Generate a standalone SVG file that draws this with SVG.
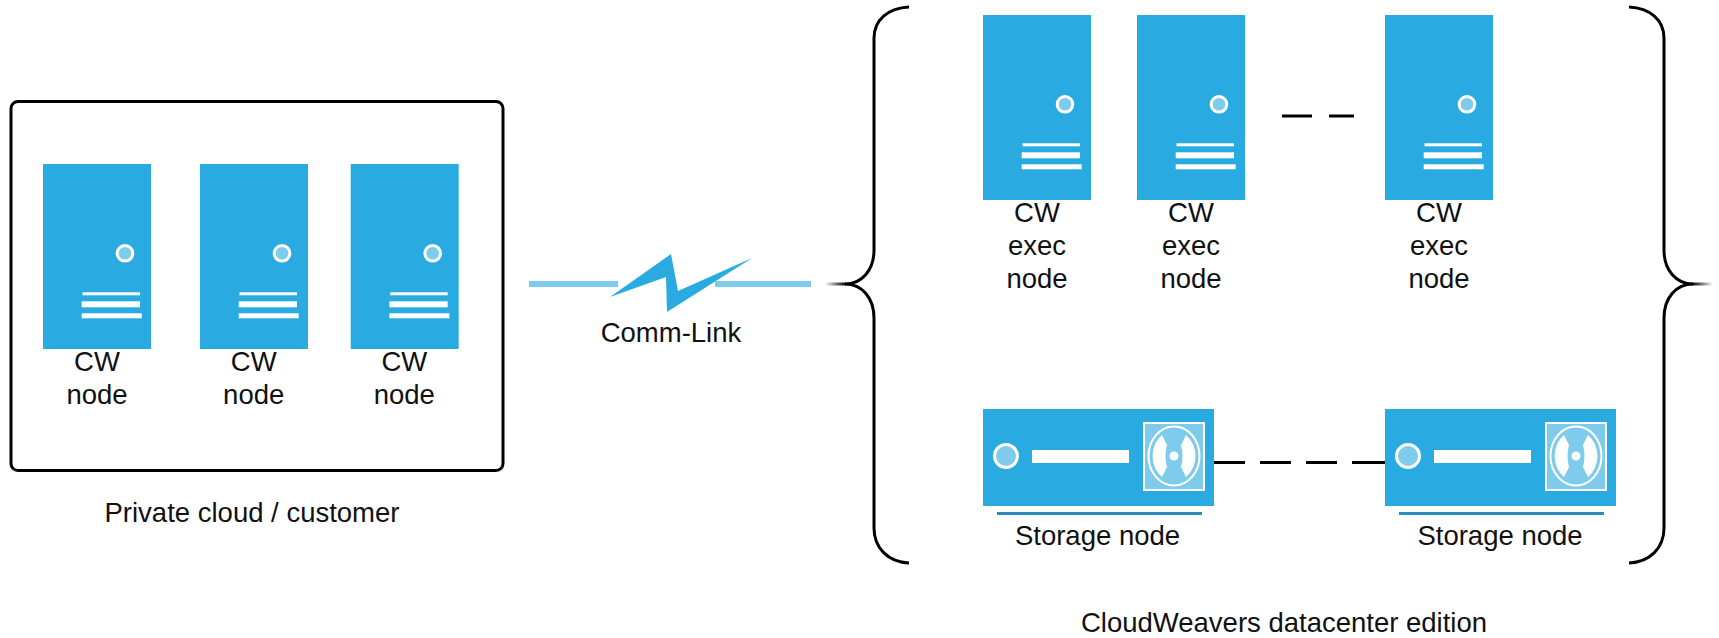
<svg xmlns="http://www.w3.org/2000/svg" xmlns:xlink="http://www.w3.org/1999/xlink" width="1719" height="638" viewBox="0 0 1719 638">
<style>
text{font-family:"Liberation Sans",Arial,sans-serif;font-size:27.5px;fill:#111;text-anchor:middle}
.blue{fill:#29abe2}
.light{fill:#7fcbec}
.w{fill:#fff}
.ws{fill:#7fcbec;stroke:#fff}
.k{fill:none;stroke:#000;stroke-width:3}
</style>
<defs>
<linearGradient id="fadeL"><stop offset="0" stop-color="#000" stop-opacity="0"/><stop offset="1" stop-color="#000"/></linearGradient>
<linearGradient id="fadeR"><stop offset="0" stop-color="#000"/><stop offset="1" stop-color="#000" stop-opacity="0"/></linearGradient>
<g id="server">
<rect class="blue" width="108" height="185"/>
<circle class="ws" stroke-width="3" cx="82" cy="89.300" r="7.800"/>
<rect class="w" x="39.500" y="128.300" width="57.500" height="3"/>
<rect class="w" x="38.700" y="137.300" width="58.300" height="6"/>
<rect class="w" x="38.700" y="149.300" width="60" height="5"/>
</g>
<g id="storage">
<rect class="blue" width="231" height="97"/>
<circle class="ws" stroke-width="3" cx="23" cy="47" r="11.500"/>
<rect class="w" x="49" y="41" width="97" height="13"/>
<rect class="ws" stroke-width="2" x="161" y="14" width="60" height="67"/>
<ellipse cx="191" cy="47" rx="25.500" ry="29.500" fill="none" stroke="#fff" stroke-width="2"/>
<path class="w" d="M179 26A23 26 0 0 0 179 68L184 58Q181 47 184 36Z"/>
<path class="w" d="M203 26A23 26 0 0 1 203 68L198 58Q201 47 198 36Z"/>
<circle class="w" cx="191" cy="47" r="4.500"/>
</g>
</defs>
<g id="connectors">
<rect class="light" x="529" y="281" width="89" height="6"/>
<rect class="light" x="715" y="281" width="96" height="6"/>
<path class="k" d="M1214 462.500H1245M1260 462.500H1291M1306 462.500H1337M1352 462.500H1385"/>
<path class="k" d="M1282 116H1312M1329 116H1354"/>
</g>
<g id="private-cloud">
<rect class="k" x="11" y="101.500" width="492" height="369" rx="7"/>
<text x="252" y="522">Private cloud / customer</text>
</g>
<g id="cw-node-1"><use xlink:href="#server" href="#server" x="43" y="164"/><text x="97" y="371">CW</text><text x="97" y="404">node</text></g>
<g id="cw-node-2"><use xlink:href="#server" href="#server" x="200" y="164"/><text x="253.700" y="371">CW</text><text x="253.700" y="404">node</text></g>
<g id="cw-node-3"><use xlink:href="#server" href="#server" x="350.700" y="164"/><text x="404.300" y="371">CW</text><text x="404.300" y="404">node</text></g>
<g id="comm-link">
<path class="blue" d="M610 297L671 254L678 291L752 258L667 312L666 277Z"/>
<text x="671" y="342">Comm-Link</text>
</g>
<g id="left-brace">
<path class="k" d="M909 7C888 8 874 20 874 38V250C874 270 862 284 845 284C862 284 874 298 874 318V528C874 548 888 562 909 563"/>
<rect x="825" y="282.500" width="21" height="3" fill="url(#fadeL)"/>
</g>
<g id="right-brace">
<path class="k" d="M1629 7C1650 8 1664 20 1664 38V250C1664 270 1676 284 1693 284C1676 284 1664 298 1664 318V528C1664 548 1650 562 1629 563"/>
<rect x="1692" y="282.500" width="21" height="3" fill="url(#fadeR)"/>
</g>
<g id="exec-node-1"><use xlink:href="#server" href="#server" x="983" y="15"/><text x="1037" y="222">CW</text><text x="1037" y="255">exec</text><text x="1037" y="288">node</text></g>
<g id="exec-node-2"><use xlink:href="#server" href="#server" x="1137" y="15"/><text x="1191" y="222">CW</text><text x="1191" y="255">exec</text><text x="1191" y="288">node</text></g>
<g id="exec-node-3"><use xlink:href="#server" href="#server" x="1385" y="15"/><text x="1439" y="222">CW</text><text x="1439" y="255">exec</text><text x="1439" y="288">node</text></g>
<g id="storage-node-1"><use xlink:href="#storage" href="#storage" x="983" y="409"/><rect x="997" y="512" width="205" height="3" fill="#2a8cb9"/><text x="1097.500" y="545">Storage node</text></g>
<g id="storage-node-2"><use xlink:href="#storage" href="#storage" x="1385" y="409"/><rect x="1399" y="512" width="205" height="3" fill="#2a8cb9"/><text x="1500" y="545">Storage node</text></g>
<text x="1284" y="632">CloudWeavers datacenter edition</text>
</svg>
